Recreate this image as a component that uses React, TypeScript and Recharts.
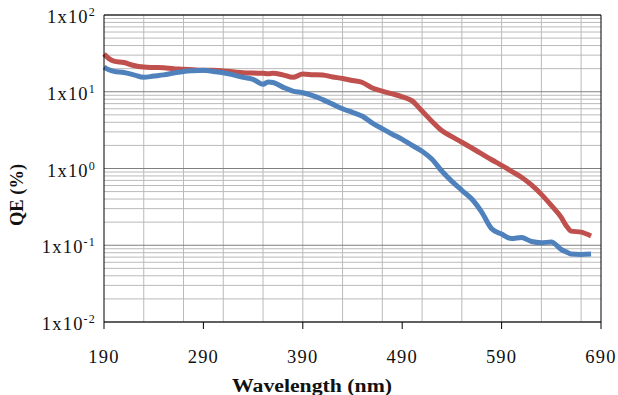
import {
  CartesianGrid,
  Line,
  LineChart,
  ReferenceLine,
  XAxis,
  YAxis,
} from "recharts";

// wavelength (nm) and quantum efficiency (%)
const wavelengths = [
  190, 195, 200, 210, 220, 230, 240, 250, 260, 270, 280, 290, 300, 310, 320, 330, 340, 350, 355,
  360, 370, 380, 390, 400, 410, 420, 430, 440, 450, 460, 470, 480, 490, 500, 510, 520, 530, 540,
  550, 560, 570, 580, 590, 600, 610, 620, 630, 640, 650, 655, 660, 670, 680,
];
const redQE = [
  31, 27, 25, 24, 22, 21, 20.7, 20.5, 20, 19.7, 19.3, 19, 19, 18.7, 18.2, 17.7, 17.5, 17.4, 17.2,
  17.4, 16.6, 15.4, 17, 16.7, 16.5, 15.6, 14.9, 14, 13.2, 11.2, 10.2, 9.4, 8.6, 7.6, 5.6, 4.1, 3.1,
  2.6, 2.2, 1.85, 1.55, 1.3, 1.1, 0.92, 0.77, 0.61, 0.46, 0.33, 0.23, 0.18, 0.153, 0.148, 0.132,
];
const blueQE = [
  21, 19.3, 18.4, 17.8, 16.6, 15.4, 16, 16.6, 17.5, 18.4, 18.8, 19, 18.4, 17.7, 16.6, 15.4, 14.5,
  12.5, 13.4, 13.2, 11.5, 10.2, 9.7, 8.9, 7.9, 6.9, 6.0, 5.4, 4.8, 3.9, 3.3, 2.8, 2.4, 2.0, 1.68,
  1.32, 0.92, 0.68, 0.52, 0.4, 0.27, 0.164, 0.14, 0.122, 0.126, 0.112, 0.108, 0.11, 0.088, 0.082,
  0.077, 0.076, 0.077,
];

const xTicks = [190, 290, 390, 490, 590, 690];
const yTicks = [0.01, 0.1, 1, 10, 100];
const xGrid = [210, 230, 250, 270, 290, 310, 330, 350, 370, 390, 410, 430, 450, 470, 490, 510, 530, 550, 570, 590, 610, 630, 650, 670];
const yMinorGrid = [
  0.02, 0.03, 0.04, 0.05, 0.06, 0.07, 0.08, 0.09,
  0.2, 0.3, 0.4, 0.5, 0.6, 0.7, 0.8, 0.9,
  2, 3, 4, 5, 6, 7, 8, 9,
  20, 30, 40, 50, 60, 70, 80, 90,
];

const data = wavelengths.map((w, i) => ({ w, red: redQE[i], blue: blueQE[i] }));

const FONT = "'Liberation Serif', 'Times New Roman', serif";
const GRID = "#bababa";

const YTick = ({ x, y, payload }: any) => {
  const exp = Math.round(Math.log10(payload.value));
  return (
    <text x={x} y={y + 8} textAnchor="end" fontFamily={FONT} fontSize={18.5} fill="#111" letterSpacing={1.2}>
      <tspan>1x10</tspan>
      <tspan dy={-7} fontSize={12}>{exp}</tspan>
    </text>
  );
};

const XTick = ({ x, y, payload }: any) => (
  <text x={x} y={y + 32} textAnchor="middle" fontFamily={FONT} fontSize={18.5} fill="#111" letterSpacing={1.2}>
    {payload.value}
  </text>
);

export default function App() {
  return (
    <div style={{ position: "absolute", left: 0, top: 0, background: "#fff" }}>
      <LineChart width={618} height={395} data={data} margin={{ top: 15, right: 17, bottom: 43, left: 0 }}>
        <CartesianGrid horizontal={false} verticalValues={xGrid} stroke={GRID} />
        {yMinorGrid.map((v) => (
          <ReferenceLine key={v} y={v} stroke={GRID} />
        ))}
        <CartesianGrid vertical={false} stroke="#808080" />
        <XAxis
          dataKey="w"
          type="number"
          domain={[190, 690]}
          ticks={xTicks}
          height={30}
          tickSize={7}
          tickMargin={2}
          stroke="#000"
          tick={<XTick />}
        />
        <YAxis
          scale="log"
          domain={[0.01, 100]}
          ticks={yTicks}
          allowDataOverflow
          width={104}
          tickLine={false}
          tickSize={6}
          tickMargin={2}
          stroke="#000"
          tick={<YTick />}
        />
        <ReferenceLine y={100} stroke="#000" />
        <ReferenceLine x={690} stroke="#000" />
        <Line type="monotone" dataKey="red" stroke="#C0504D" strokeWidth={5} dot={false} isAnimationActive={false} />
        <Line type="monotone" dataKey="blue" stroke="#4F81BD" strokeWidth={5} dot={false} isAnimationActive={false} />
        <text x={232} y={392} fontFamily={FONT} fontSize={18.5} fontWeight="bold" fill="#111" textLength={160} lengthAdjust="spacingAndGlyphs">
          Wavelength (nm)
        </text>
        <text
          x={23}
          y={195}
          transform="rotate(-90 23 195)"
          textAnchor="middle"
          fontFamily={FONT}
          fontSize={18.5}
          fontWeight="bold"
          fill="#111"
        >
          QE (%)
        </text>
      </LineChart>
    </div>
  );
}
